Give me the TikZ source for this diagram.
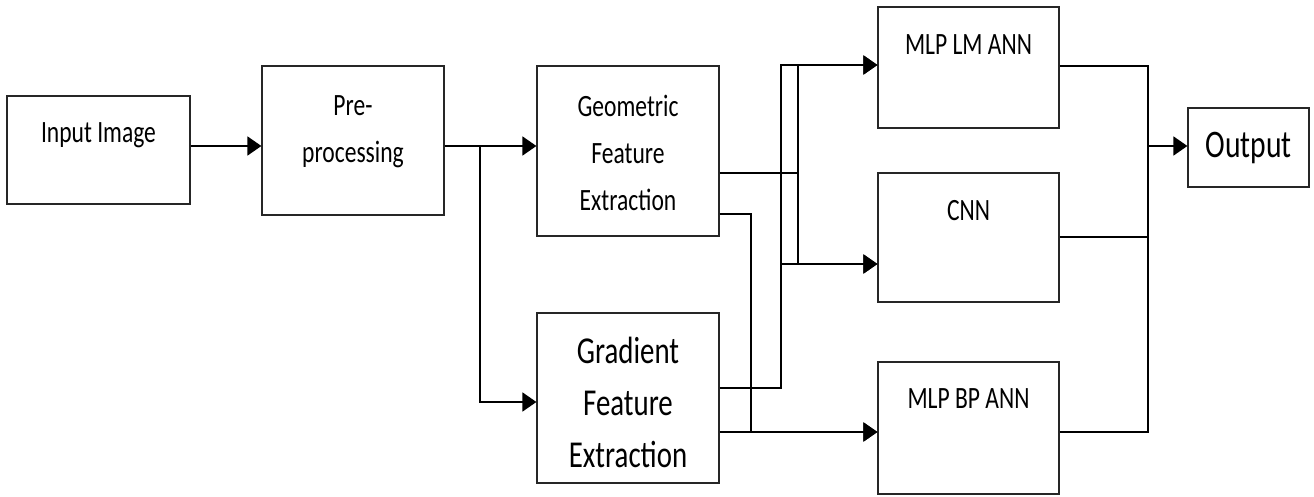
\documentclass[tikz,border=0pt]{standalone}
\usepackage{fontspec}
\setmainfont{Carlito}[FakeStretch=0.76]
\usetikzlibrary{arrows.meta,positioning}
\begin{document}
\begin{tikzpicture}[x=1pt,y=-1pt,>={Triangle[length=14pt,width=19pt]}, line join=miter]
	\tikzset{blk/.style={draw=black!85, line width=1.2pt, inner sep=0pt},
		txt/.style={inner sep=0pt, align=center, font=\fontsize{31}{47}\selectfont},
		link/.style={line width=1.7pt}}
	\useasboundingbox (0,0) rectangle (1314,497);
	% boxes
	\node[blk, minimum width=183pt, minimum height=108pt] (inp) at (98.5,150) {};
	\node[blk, minimum width=182pt, minimum height=149pt] (pre) at (353,140.5) {};
	\node[blk, minimum width=182pt, minimum height=170pt] (geo) at (628,151) {};
	\node[blk, minimum width=182pt, minimum height=170pt] (grad) at (628,398) {};
	\node[blk, minimum width=181pt, minimum height=121pt] (mlplm) at (968.5,67.5) {};
	\node[blk, minimum width=181pt, minimum height=129pt] (cnn) at (968.5,237.5) {};
	\node[blk, minimum width=181pt, minimum height=132pt] (mlpbp) at (968.5,428) {};
	\node[blk, minimum width=121pt, minimum height=79pt] (out) at (1248.5,147.5) {};
	% texts
	\node[txt, anchor=base] (inp-t) at ([yshift=-47pt]inp.north) {Input Image};
	\node[txt, anchor=north] (pre-t) at ([yshift=-30pt]pre.north) {Pre-\\processing};
	\node[txt, anchor=north] (geo-t) at ([yshift=-30pt]geo.north) {Geometric\\Feature\\Extraction};
	\node[txt, anchor=north, font=\fontsize{38}{52}\selectfont] (grad-t) at ([yshift=-25pt]grad.north) {Gradient\\Feature\\Extraction};
	\node[txt, anchor=base] (mlplm-t) at ([yshift=-48pt]mlplm.north) {MLP LM ANN};
	\node[txt, anchor=base] (cnn-t) at ([yshift=-48pt]cnn.north) {CNN};
	\node[txt, anchor=base] (mlpbp-t) at ([yshift=-47pt]mlpbp.north) {MLP BP ANN};
	\node[txt, anchor=base, font=\fontsize{39}{47}\selectfont] (out-t) at ([yshift=-50pt]out.north) {Output};
	% bend points
	\coordinate (split) at (480,146);
	\coordinate (lmIn) at ([yshift=2.5pt]mlplm.west);
	\coordinate (cnnIn) at ([yshift=-26.5pt]cnn.west);
	\coordinate (bpIn) at ([yshift=-4pt]mlpbp.west);
	\coordinate (busA) at (781,65);
	\coordinate (busB) at (798,65);
	\coordinate (drop) at (751,432);
	\coordinate (merge) at (1148,146);
	% connectors
	\draw[link,->] ([yshift=4pt]inp.east) -- ([yshift=4pt]inp.east -| pre.west);
	\draw[link,->] (pre.east |- split) -- (geo.west |- split);
	\draw[link,->] (split) |- ([yshift=-4pt]grad.west);
	\draw[link,->] ([yshift=-22pt]geo.east) -| (busB) -- (lmIn);
	\draw[link,->] (busB) |- (cnnIn);
	\draw[link,->] ([yshift=10pt]grad.east) -| (busA) -- (lmIn);
	\draw[link,->] (busA |- cnnIn) -- (cnnIn);
	\draw[link,->] ([yshift=-63pt]geo.east) -| (drop) -- (bpIn);
	\draw[link,->] ([yshift=-34pt]grad.east) -- (bpIn);
	\draw[link] ([yshift=1.5pt]mlplm.east) -| (merge);
	\draw[link] ([yshift=0.5pt]cnn.east) -| (merge);
	\draw[link] ([yshift=-4pt]mlpbp.east) -| (merge);
	\draw[link,->] (merge) -- (merge -| out.west);
\end{tikzpicture}
\end{document}
